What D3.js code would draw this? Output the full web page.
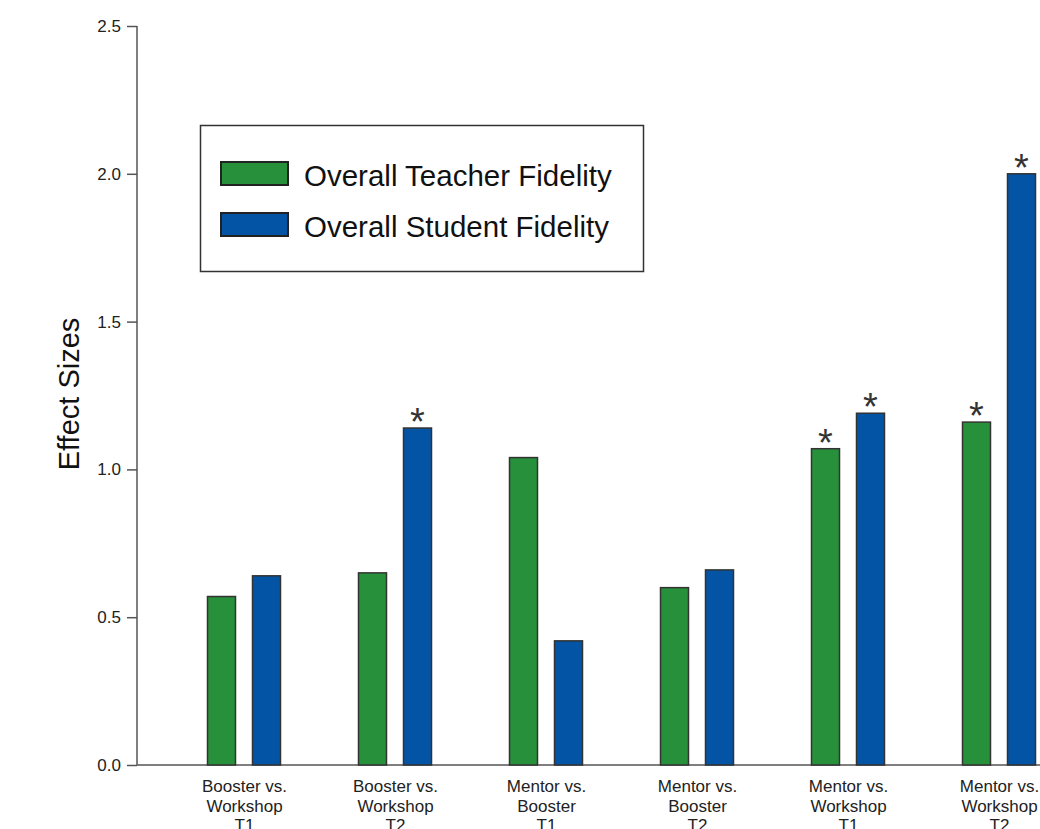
<!DOCTYPE html>
<html>
<head>
<meta charset="utf-8">
<script src="https://cdn.jsdelivr.net/npm/d3@7"></script>
<style>
  html, body { margin: 0; padding: 0; background: #fff; }
  svg { display: block; }
  text { font-family: "Liberation Sans", Arial, Helvetica, sans-serif; }
</style>
</head>
<body>
<svg id="chart" width="1040" height="829"></svg>
<script>
// Comparison groups (three-line labels)
const categories = [
  "Booster vs.|Workshop|T1",
  "Booster vs.|Workshop|T2",
  "Mentor vs.|Booster|T1",
  "Mentor vs.|Booster|T2",
  "Mentor vs.|Workshop|T1",
  "Mentor vs.|Workshop|T2"
];
const seriesNames = ["Overall Teacher Fidelity", "Overall Student Fidelity"];
const teacherValues = [0.57, 0.65, 1.04, 0.60, 1.07, 1.16];
const studentValues = [0.64, 1.14, 0.42, 0.66, 1.19, 2.00];
// significance flags (asterisk above bar)
const teacherSig = [false, false, false, false, true, true];
const studentSig = [false, true, false, false, true, true];
const yTicks = [0.0, 0.5, 1.0, 1.5, 2.0, 2.5];

const colors = { "Overall Teacher Fidelity": "#27903a", "Overall Student Fidelity": "#0454a6" };
const axisColor = "#555";
const barStroke = "#333";

const svg = d3.select("#chart");

const y = d3.scaleLinear().domain([0, 2.5]).range([765, 26]);
const x0 = d3.scaleBand().domain(categories).range([169, 1075]).padding(0);
const x1 = d3.scaleBand().domain(seriesNames).range([-37, 36]).paddingInner(17 / 45).paddingOuter(0);

const rows = categories.map((c, i) => ({
  cat: c,
  vals: [
    { s: seriesNames[0], v: teacherValues[i], sig: teacherSig[i] },
    { s: seriesNames[1], v: studentValues[i], sig: studentSig[i] }
  ]
}));

// Y axis
const yAxis = d3.axisLeft(y).tickValues(yTicks).tickFormat(d3.format(".1f")).tickSize(10).tickPadding(6);
const gy = svg.append("g").attr("transform", "translate(137,0)").call(yAxis);
gy.select(".domain").remove();
gy.append("line").attr("x1", 0).attr("x2", 0).attr("y1", y(2.5)).attr("y2", y(0))
  .attr("stroke", axisColor).attr("stroke-width", 1.5);
gy.selectAll(".tick line").attr("stroke", axisColor).attr("stroke-width", 1.5);
gy.selectAll(".tick text").attr("fill", "#222").style("font-size", "17px");

// X axis baseline
svg.append("line").attr("x1", 137).attr("x2", 1040).attr("y1", y(0)).attr("y2", y(0))
  .attr("stroke", axisColor).attr("stroke-width", 1.5);

// Bars
const groups = svg.append("g").selectAll("g").data(rows).join("g")
  .attr("transform", d => `translate(${x0(d.cat) + x0.bandwidth() / 2},0)`);

groups.selectAll("rect").data(d => d.vals).join("rect")
  .attr("x", d => x1(d.s))
  .attr("y", d => y(d.v))
  .attr("width", x1.bandwidth())
  .attr("height", d => y(0) - y(d.v))
  .attr("fill", d => colors[d.s])
  .attr("stroke", barStroke)
  .attr("stroke-width", 1.5);

groups.selectAll("text.sig").data(d => d.vals.filter(v => v.sig)).join("text")
  .attr("class", "sig")
  .attr("x", d => x1(d.s) + x1.bandwidth() / 2)
  .attr("y", d => y(d.v) + 7)
  .attr("text-anchor", "middle")
  .attr("fill", "#333")
  .style("font-size", "38px")
  .text("*");

// Category labels
const labels = svg.append("g").selectAll("text").data(categories).join("text")
  .attr("x", d => x0(d) + x0.bandwidth() / 2)
  .attr("y", 792)
  .attr("text-anchor", "middle")
  .attr("fill", "#222")
  .style("font-size", "17px");
labels.selectAll("tspan").data(d => d.split("|")).join("tspan")
  .attr("x", function () { return d3.select(this.parentNode).attr("x"); })
  .attr("dy", (d, i) => i === 0 ? 0 : 19.5)
  .text(d => d);

// Y axis title
svg.append("text")
  .attr("transform", "translate(79,394) rotate(-90)")
  .attr("text-anchor", "middle")
  .attr("fill", "#111")
  .style("font-size", "29px")
  .text("Effect Sizes");

// Legend
const legend = svg.append("g");
legend.append("rect").attr("x", 200.5).attr("y", 125.5).attr("width", 443).attr("height", 146)
  .attr("fill", "#fff").attr("stroke", "#333").attr("stroke-width", 1.5);
const li = legend.selectAll("g").data(seriesNames).join("g")
  .attr("transform", (d, i) => `translate(0,${i * 51})`);
li.append("rect").attr("x", 221).attr("y", 162).attr("width", 67).attr("height", 23)
  .attr("fill", d => colors[d]).attr("stroke", "#222").attr("stroke-width", 2);
li.append("text").attr("x", 304).attr("y", 185.5).attr("fill", "#111")
  .style("font-size", "29.5px").text(d => d);
</script>
</body>
</html>
